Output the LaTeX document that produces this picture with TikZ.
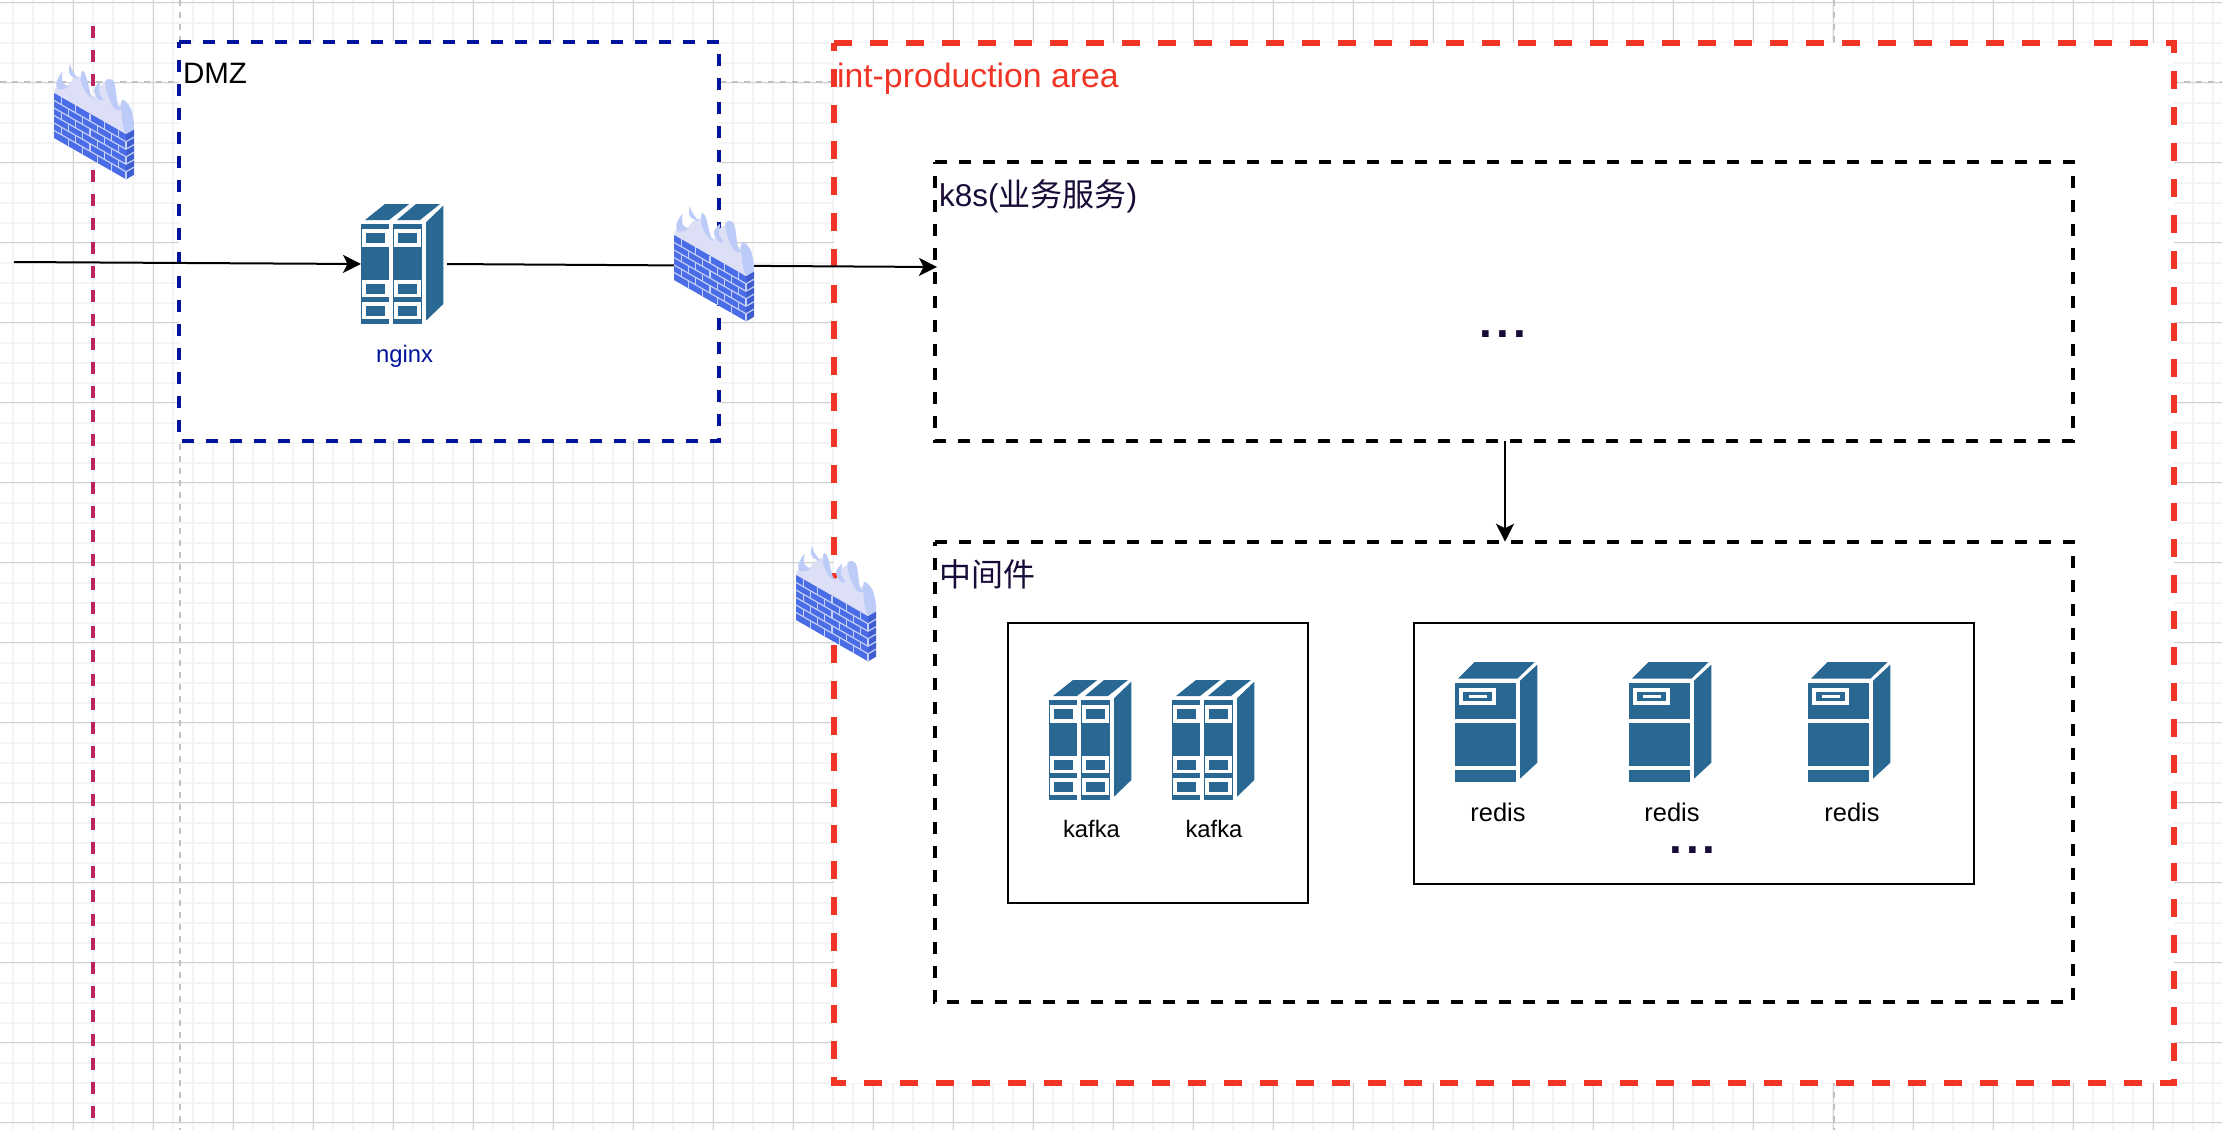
\documentclass[tikz,border=0pt]{standalone}
\usepackage{fontspec}
\setmainfont{Liberation Sans}
\newfontfamily\cjk{Noto Sans CJK SC}
\newfontfamily\dotfont[LetterSpace=8.5]{Liberation Sans}
\usetikzlibrary{arrows.meta}
\definecolor{srvblue}{HTML}{2A6894}
\definecolor{gridminor}{HTML}{F4F4F4}
\definecolor{gridmajor}{HTML}{D0D0D0}
\definecolor{pageline}{HTML}{C0C0C0}
\definecolor{redline}{HTML}{B7245F}
\definecolor{dmzblue}{HTML}{00139B}
\definecolor{prodred}{HTML}{F03526}
\definecolor{inktext}{HTML}{190B37}
\definecolor{brick}{HTML}{4A6CE6}
\definecolor{brickside}{HTML}{3F5DCF}
\definecolor{brickjoint}{HTML}{C5D0F7}
\definecolor{flamebody}{HTML}{DCDFF5}
\definecolor{flamedark}{HTML}{BDCBF8}
\tikzset{
  anchorbox/.style={inner sep=0pt,outer sep=0pt,minimum width=#1},
  zonered/.style={draw=prodred,line width=6pt,fill=white,dash pattern=on 18pt off 18pt},
  zoneblue/.style={draw=dmzblue,line width=4pt,fill=white,dash pattern=on 12pt off 12pt},
  zoneblack/.style={draw=black,line width=4pt,fill=white,dash pattern=on 12pt off 12pt},
  groupbox/.style={draw=black,line width=2pt,fill=white},
  conn/.style={draw=black,line width=2pt,-{Stealth[length=18pt,width=18pt,inset=4.5pt]}},
  lbl/.style={inner sep=0pt,outer sep=0pt,anchor=base west},
  caption/.style={inner sep=0pt,outer sep=0pt,anchor=base},
}
\newcommand{\fsz}[1]{\fontsize{#1}{#1}\selectfont}
\newcommand{\DServer}[2]{%
  \begin{scope}[shift={(#1,#2)}]
    \fill[srvblue] (0,20) rectangle (28,120);
    \fill[srvblue] (32,20) rectangle (61.3,120);
    \fill[srvblue] (65,18.3) -- (82.3,1.7) -- (82.3,100) -- (65,116.7) -- cycle;
    \fill[srvblue] (4,16) -- (24,0) -- (48.3,0) -- (28,16) -- cycle;
    \fill[srvblue] (36,16) -- (55,0) -- (79,0) -- (59,16) -- cycle;
    \foreach \ya/\yb/\yc/\yd in {25.3/42.7/29.3/39.3,76/93.3/80/90,97.7/115/102/112}{
      \fill[white] (1.3,\ya) rectangle (28,\yb);
      \fill[srvblue] (5,\yc) rectangle (24.3,\yd);
      \fill[white] (33,\ya) rectangle (60.3,\yb);
      \fill[srvblue] (37,\yc) rectangle (56.3,\yd);
    }
  \end{scope}}
\newcommand{\SServer}[2]{%
  \begin{scope}[shift={(#1,#2)}]
    \fill[srvblue] (0,20.7) rectangle (61,57);
    \fill[srvblue] (0,60.7) rectangle (61,104);
    \fill[srvblue] (0,108) rectangle (61,120);
    \fill[srvblue] (65,18.7) -- (82.3,2.7) -- (82.3,100.7) -- (65,116.7) -- cycle;
    \fill[srvblue] (3,16.7) -- (19.7,0) -- (79.7,0) -- (62.3,16.7) -- cycle;
    \fill[white] (4,26.3) rectangle (41.3,42.7);
    \fill[srvblue] (8,30.3) rectangle (37.3,38.7);
    \fill[white] (14,33) rectangle (32,36.3);
  \end{scope}}
\newcommand{\Firewall}[2]{%
  \begin{scope}[shift={(#1,#2)}]
    \fill[flamebody,rounded corners=3pt] (0,31) -- (1,25) -- (6,22) -- (13,24) -- (18,17) -- (26,12) -- (33,30) -- (41,35) -- (43,25) -- (53,19) -- (61,45) -- (68,40) -- (74,40) -- (80,69) -- (72,72) -- cycle;
    \fill[flamedark] plot[smooth cycle,tension=0.6] coordinates {(8,9) (2.5,19) (3.5,26) (9,26) (14,24) (9,20) (8,14)};
    \fill[flamedark] plot[smooth cycle,tension=0.6] coordinates {(16,1) (15,7) (16.5,12) (24,16) (20,10) (17,5)};
    \fill[flamedark] plot[smooth cycle,tension=0.6] coordinates {(28,8) (32,13) (37,32) (41,36) (33,31) (27,18)};
    \fill[flamedark] plot[smooth cycle,tension=0.6] coordinates {(46,19) (40,27) (44,36) (49,37) (45,29)};
    \fill[flamedark] plot[smooth cycle,tension=0.6] coordinates {(52,17) (60,19) (64,42) (69,46) (61,46) (55,35) (52,25)};
    \fill[flamedark] plot[smooth cycle,tension=0.6] coordinates {(68,37) (77,46) (80,67) (72,70) (68,55)};
    \fill[brickside] (72,71.3) -- (80,66.7) -- (80,111.7) -- (72,116.5) -- cycle;
    \foreach \rw in {1,...,5}{
      \pgfmathsetmacro\ya{71.3+\rw*7.5}
      \draw[brickjoint,line width=1.2pt] (72,\ya) -- (80,\ya-4.6);
    }
    \begin{scope}[cm={1,-0.573,0,1,(0,0)}]
      \fill[brick] (0,30) rectangle (72,75);
      \foreach \rw in {0,...,5}{
        \pgfmathsetmacro\ya{30+\rw*7.5}
        \pgfmathsetmacro\yb{\ya+7.5}
        \pgfmathsetmacro\off{mod(\rw,2)*7.2}
        \ifnum\rw>0 \draw[brickjoint,line width=1.2pt] (0,\ya) -- (72,\ya);\fi
        \foreach \kk in {0,...,4}{
          \pgfmathsetmacro\xx{\off+7.2+\kk*14.4}
          \ifdim\xx pt<72pt \draw[brickjoint,line width=1.2pt] (\xx,\ya) -- (\xx,\yb);\fi
        }
      }
    \end{scope}
  \end{scope}}
\begin{document}
\begin{tikzpicture}[x=1pt,y=-1pt]
\useasboundingbox (0,0) rectangle (2222,1130);
\fill[white] (0,0) rectangle (2222,1130);
% grid
\foreach \gx in {0,...,110}{\draw[gridminor,line width=2pt] ({13+20*\gx},0) -- ({13+20*\gx},1130);}
\foreach \gy in {0,...,56}{\draw[gridminor,line width=2pt] (0,{2.5+20*\gy}) -- (2222,{2.5+20*\gy});}
\foreach \gx in {0,...,27}{\draw[gridmajor,line width=1pt] ({73+80*\gx},0) -- ({73+80*\gx},1130);}
\foreach \gy in {0,...,14}{\draw[gridmajor,line width=1pt] (0,{2.5+80*\gy}) -- (2222,{2.5+80*\gy});}
% page breaks
\draw[pageline,line width=2pt,dash pattern=on 6pt off 6pt] (0,82) -- (2222,82);
\draw[pageline,line width=2pt,dash pattern=on 6pt off 6pt] (180,0) -- (180,1130);
\draw[pageline,line width=2pt,dash pattern=on 6pt off 6pt] (1834,0) -- (1834,1130);
% perimeter line
\coordinate (permtop) at (93,26);
\coordinate (permbot) at (93,1118);
\draw[redline,line width=4pt,dash pattern=on 12pt off 12pt] (permtop) -- (permbot);
% zones as named anchors
\node[anchorbox=540pt,minimum height=399pt] (dmz) at (449,241.5) {};
\node[anchorbox=1340pt,minimum height=1040pt] (prod) at (1504,563) {};
\node[anchorbox=1138pt,minimum height=279pt] (k8s) at (1504,301.5) {};
\node[anchorbox=1138pt,minimum height=460pt] (mw) at (1504,771.7) {};
\node[anchorbox=299.7pt,minimum height=279.4pt] (kbox) at (1157.85,763) {};
\node[anchorbox=560pt,minimum height=261pt] (rbox) at (1694,753.5) {};
\draw[zoneblue] (dmz.north west) -- (dmz.north east) -- (dmz.south east) -- (dmz.south west) -- cycle;
\draw[zonered] (prod.north west) -- (prod.north east) -- (prod.south east) -- (prod.south west) -- cycle;
\draw[zoneblack] (k8s.north west) -- (k8s.north east) -- (k8s.south east) -- (k8s.south west) -- cycle;
\draw[zoneblack] (mw.north west) -- (mw.north east) -- (mw.south east) -- (mw.south west) -- cycle;
\draw[groupbox] (kbox.north west) rectangle (kbox.south east);
\draw[groupbox] (rbox.north west) rectangle (rbox.south east);
% icon anchors
\node[anchorbox=82pt,minimum height=120pt] (nginx) at (402,264) {};
\node[anchorbox=80pt,minimum height=117pt] (fw1) at (94,121.5) {};
\node[anchorbox=80pt,minimum height=117pt] (fw2) at (714,263.5) {};
\node[anchorbox=80pt,minimum height=117pt] (fw3) at (836,603.5) {};
\coordinate (inet) at (14,262);
\coordinate (k8sin) at (937,267);
% connectors
\draw[conn] (inet) -- (nginx.west);
\draw[conn,shorten <=4pt] (nginx.east) -- (k8sin);
\draw[conn] ([xshift=1pt]k8s.south) -- ([xshift=1pt]mw.north);
% icons
\DServer{361}{204}
\DServer{1049}{680}
\DServer{1172}{680}
\SServer{1455}{662}
\SServer{1629}{662}
\SServer{1808}{662}
\Firewall{54}{63}
\Firewall{674}{205}
\Firewall{796}{545}
% labels
\node[lbl,font=\fsz{29.5}] (tdmz) at (183,83) {DMZ};
\node[lbl,font=\fsz{33.8},text=prodred] (tprod) at (837,87) {int-production area};
\node[lbl,font=\fsz{31.5},text=inktext] (tk8s) at (939,206) {k8s(\fsz{32}{\cjk 业务服务})};
\node[lbl,font=\fsz{32},text=inktext] (tmw) at (939,586) {\cjk 中间件};
\node[caption,font=\fsz{23.8},text=dmzblue] (tnginx) at (404.5,362) {nginx};
\node[caption,font=\fsz{23.8}] (tk1) at (1091.5,837.7) {kafka};
\node[caption,font=\fsz{23.8}] (tk2) at (1214,837.7) {kafka};
\node[caption,font=\fsz{25.5}] (tr1) at (1498,821.7) {redis};
\node[caption,font=\fsz{25.5}] (tr2) at (1672,821.7) {redis};
\node[caption,font=\fsz{25.5}] (tr3) at (1852,821.7) {redis};
\node[lbl,font=\fsz{46}\dotfont\bfseries,text=inktext] (td1) at (1479.7,337) {...};
\node[lbl,font=\fsz{46}\dotfont\bfseries,text=inktext] (td2) at (1669.4,853) {...};
\end{tikzpicture}
\end{document}
